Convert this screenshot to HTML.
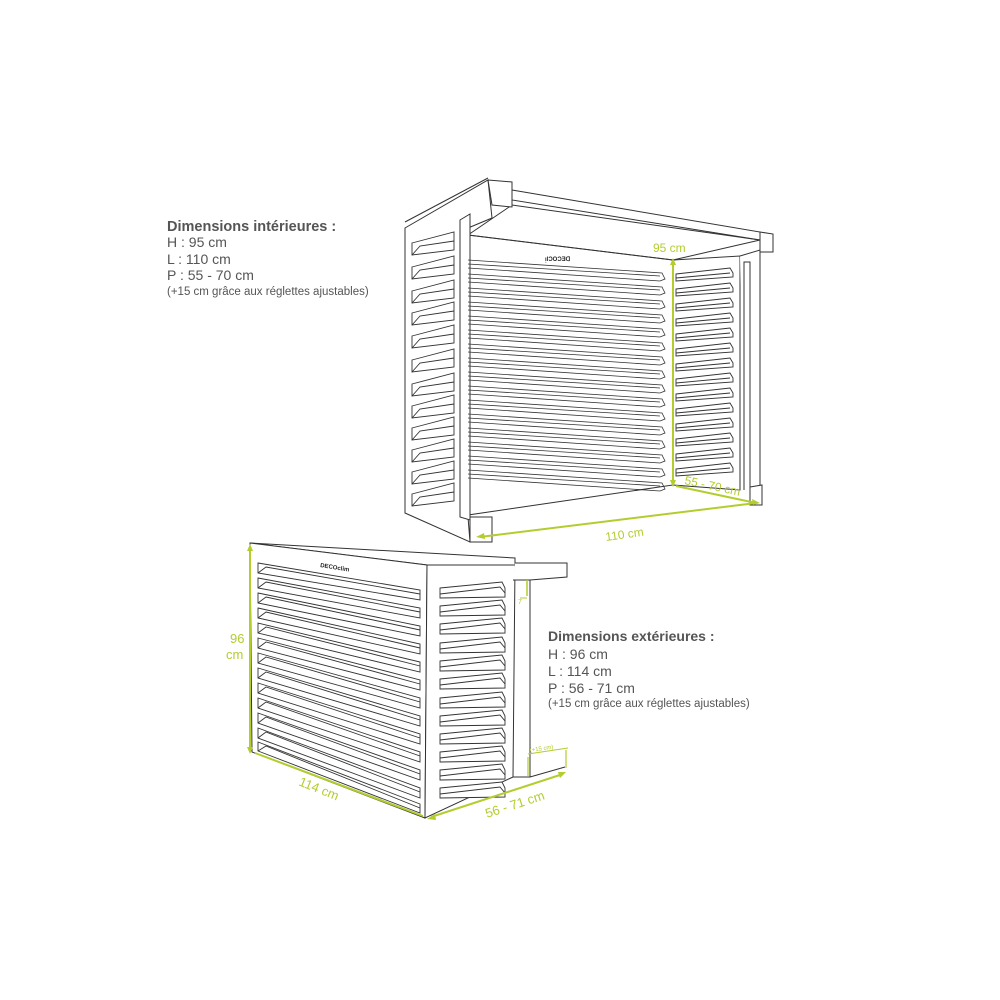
<!DOCTYPE html>
<html><head><meta charset="utf-8"><style>
html,body{margin:0;padding:0;background:#fff;}
svg{display:block}
.t{font-family:"Liberation Sans",sans-serif;fill:#555;}
</style></head><body>
<svg width="1000" height="1000" viewBox="0 0 1000 1000" xmlns="http://www.w3.org/2000/svg">
<defs>
<g id="bs" fill="none" stroke="#333" stroke-width="0.8">
<path d="M468,0 L662,13 L665,19 L660,21 L468,8"/>
<path d="M468,4 L660,16"/>
</g>
<g id="ls" fill="#fff" stroke="#333" stroke-width="0.9">
<path d="M412,11 L454,0 L454,18 L412,23 Z"/>
<path d="M412,23 L420,14 L454,9" fill="none"/>
</g>
<g id="rs" fill="#fff" stroke="#333" stroke-width="0.9">
<path d="M676,6 L730,0 L733,5 L733,9 L676,13 Z"/>
<path d="M676,10 L730,5" fill="none"/>
</g>
<g id="ss" fill="#fff" stroke="#333" stroke-width="0.9">
<path d="M440,6 L502,0 L505,6 L505,15 L440,16 Z"/>
<path d="M440,12 L500,5 L505,11" fill="none"/>
</g>
</defs>

<!-- TOP UNIT -->
<g fill="#fff" stroke="#333" stroke-width="1">
<path d="M468,235 L673,260 L673,485 L468,515 Z"/>
<path d="M512,190 L760,232 L760,240 L512,200 Z"/>
<path d="M468,235 L512,205 L760,240 L673,260 Z" fill="none"/>
<path d="M405,228 L488,180 L492,218 L468,228 L468,517 L470,542 L405,513 Z"/>
<path d="M405,222 L488,178" fill="none"/>
<path d="M460,220 L470,214 L470,520 L460,517 Z"/>
<path d="M488,180 L512,182 L512,207 L492,205 Z"/>
<path d="M470,517 L492,517 L492,542 L470,542 Z"/>
<path d="M673,260 L740,256 L740,490 L673,485 Z" fill="none"/>
<path d="M740,256 L760,250 L760,490 L750,492 L750,262 L744,262 L744,490" />
<path d="M760,232 L773,234 L773,252 L760,252 Z"/>
<path d="M750,487 L762,485 L762,505 L750,505 Z"/>
</g>
<text x="545" y="261" font-family="Liberation Sans,sans-serif" font-size="6" font-weight="bold" fill="#222">ᴉlƆOƆƎᗡ</text>
<use href="#bs" y="260"/><use href="#bs" y="274"/><use href="#bs" y="288"/><use href="#bs" y="302"/>
<use href="#bs" y="316"/><use href="#bs" y="330"/><use href="#bs" y="344"/><use href="#bs" y="358"/>
<use href="#bs" y="372"/><use href="#bs" y="386"/><use href="#bs" y="400"/><use href="#bs" y="414"/>
<use href="#bs" y="428"/><use href="#bs" y="442"/><use href="#bs" y="456"/><use href="#bs" y="470"/>
<use href="#ls" y="232"/><use href="#ls" y="256"/><use href="#ls" y="280"/><use href="#ls" y="302"/>
<use href="#ls" y="325"/><use href="#ls" y="349"/><use href="#ls" y="373"/><use href="#ls" y="395"/>
<use href="#ls" y="417"/><use href="#ls" y="439"/><use href="#ls" y="461"/><use href="#ls" y="483"/>
<use href="#rs" y="268"/><use href="#rs" y="283"/><use href="#rs" y="298"/><use href="#rs" y="313"/>
<use href="#rs" y="328"/><use href="#rs" y="343"/><use href="#rs" y="358"/><use href="#rs" y="373"/>
<use href="#rs" y="388"/><use href="#rs" y="403"/><use href="#rs" y="418"/><use href="#rs" y="433"/>
<use href="#rs" y="448"/><use href="#rs" y="463"/>

<g stroke="#b5cc2e" stroke-width="2" fill="#b5cc2e">
<line x1="673" y1="263" x2="673" y2="483"/>
<path d="M673,258 l-3,7 h6 Z M673,487 l-3,-7 h6 Z" stroke="none"/>
<line x1="676" y1="486" x2="756" y2="503"/>
<line x1="480" y1="537" x2="756" y2="503"/>
<path d="M760,503 l-8,-4 l1,6 Z M476,537 l8,-4 l1,6 Z" stroke="none"/>
</g>
<g font-family="Liberation Sans,sans-serif" fill="#b5cc2e" font-size="12">
<text x="653" y="252">95 cm</text>
<text x="684" y="484" transform="rotate(12 684 484)">55 - 70 cm</text>
<text x="606" y="541" transform="rotate(-8 606 541)">110 cm</text>
</g>

<!-- BOTTOM UNIT -->
<g fill="#fff" stroke="#333" stroke-width="1">
<path d="M250,543 L515,558 L515,565 L427,565 Z"/>
<path d="M250,543 L427,565 L425,818 L252,752 Z"/>
<path d="M427,565 L515,565 L513,777 L425,818 Z"/>
<path d="M515,563 L567,563 L567,577 L530,580 L513,580"/>
<path d="M513,580 L530,580 L530,777 L513,777" fill="none"/>
<path d="M530,777 L565,767" fill="none"/>
</g>
<text x="320" y="567" font-family="Liberation Sans,sans-serif" font-size="6" font-weight="bold" fill="#222" transform="rotate(9 320 567)">DECOclim</text>
<g fill="#fff" stroke="#333" stroke-width="0.9">
<path d="M258,563 L420,590 L420,600 L258,573 Z"/><path d="M258,573 L266,567 L420,594" fill="none"/>
<path d="M258,578 L420,608 L420,618 L258,588 Z"/><path d="M258,588 L266,582 L420,612" fill="none"/>
<path d="M258,593 L420,626 L420,636 L258,603 Z"/><path d="M258,603 L266,597 L420,630" fill="none"/>
<path d="M258,608 L420,644 L420,654 L258,618 Z"/><path d="M258,618 L266,612 L420,648" fill="none"/>
<path d="M258,623 L420,662 L420,672 L258,633 Z"/><path d="M258,633 L266,627 L420,666" fill="none"/>
<path d="M258,638 L420,680 L420,690 L258,648 Z"/><path d="M258,648 L266,642 L420,684" fill="none"/>
<path d="M258,653 L420,698 L420,708 L258,663 Z"/><path d="M258,663 L266,657 L420,702" fill="none"/>
<path d="M258,668 L420,716 L420,726 L258,678 Z"/><path d="M258,678 L266,672 L420,720" fill="none"/>
<path d="M258,683 L420,734 L420,744 L258,693 Z"/><path d="M258,693 L266,687 L420,738" fill="none"/>
<path d="M258,698 L420,752 L420,762 L258,708 Z"/><path d="M258,708 L266,702 L420,756" fill="none"/>
<path d="M258,713 L420,770 L420,780 L258,723 Z"/><path d="M258,723 L266,717 L420,774" fill="none"/>
<path d="M258,728 L420,788 L420,798 L258,738 Z"/><path d="M258,738 L266,732 L420,792" fill="none"/>
<path d="M258,742 L420,804 L420,813 L258,751 Z"/><path d="M258,751 L266,746 L420,808" fill="none"/>
</g>
<use href="#ss" y="582"/><use href="#ss" y="600"/><use href="#ss" y="618"/><use href="#ss" y="637"/>
<use href="#ss" y="655"/><use href="#ss" y="673"/><use href="#ss" y="692"/><use href="#ss" y="710"/>
<use href="#ss" y="728"/><use href="#ss" y="746"/><use href="#ss" y="764"/><use href="#ss" y="782"/>

<g stroke="#b5cc2e" stroke-width="2" fill="#b5cc2e">
<line x1="250" y1="548" x2="250" y2="750"/>
<path d="M250,544 l-3,7 h6 Z M250,754 l-3,-7 h6 Z" stroke="none"/>
<line x1="255" y1="753" x2="423" y2="816"/>
<line x1="431" y1="817" x2="563" y2="774"/>
<path d="M427,819 l8,-5 l1,6 Z M566,772 l-8,0 l2,6 Z" stroke="none"/>
<line x1="527" y1="580" x2="527" y2="596" stroke-width="1.5"/>
<line x1="520" y1="598" x2="527" y2="598" stroke-width="1"/>
<line x1="528" y1="754" x2="568" y2="748" stroke-width="1"/>
<line x1="528" y1="757" x2="528" y2="776" stroke-width="1.2"/>
<line x1="566" y1="750" x2="566" y2="768" stroke-width="1.2"/>
</g>
<g font-family="Liberation Sans,sans-serif" fill="#b5cc2e">
<text x="230" y="643" font-size="13">96</text>
<text x="226" y="659" font-size="13">cm</text>
<text x="298" y="785" font-size="13" transform="rotate(22 298 785)">114 cm</text>
<text x="487" y="818" font-size="13" transform="rotate(-18 487 818)">56 - 71 cm</text>
<text x="518" y="604" font-size="7">7</text>
<text x="530" y="752" font-size="6" transform="rotate(-8 530 752)">(+15 cm)</text>
</g>

<text class="t" x="167" y="231" font-size="14.5" font-weight="bold">Dimensions intérieures :</text>
<text class="t" x="167" y="247" font-size="14">H : 95 cm</text>
<text class="t" x="167" y="264" font-size="14">L : 110 cm</text>
<text class="t" x="167" y="280" font-size="14">P : 55 - 70 cm</text>
<text class="t" x="167" y="295" font-size="11.5">(+15 cm grâce aux réglettes ajustables)</text>

<text class="t" x="548" y="641" font-size="14" font-weight="bold">Dimensions extérieures :</text>
<text class="t" x="548" y="659" font-size="14">H : 96 cm</text>
<text class="t" x="548" y="676" font-size="14">L : 114 cm</text>
<text class="t" x="548" y="693" font-size="14">P : 56 - 71 cm</text>
<text class="t" x="548" y="707" font-size="11.5">(+15 cm grâce aux réglettes ajustables)</text>
</svg>
</body></html>
